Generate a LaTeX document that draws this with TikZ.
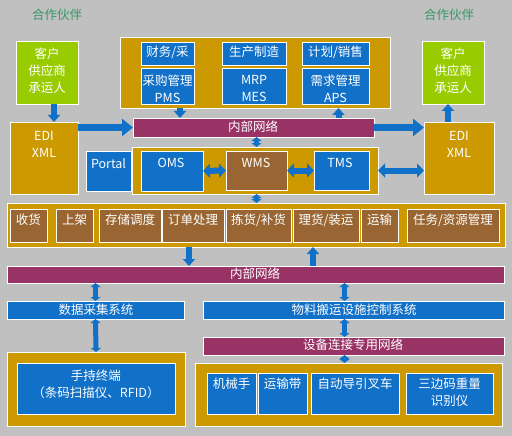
\documentclass[tikz,border=0pt]{standalone}
\usepackage{fontspec}
\setmainfont{Noto Sans CJK SC}
\usetikzlibrary{arrows.meta,calc}
\definecolor{bgc}{HTML}{C0C0C0}
\definecolor{goldc}{HTML}{CC9900}
\definecolor{bluc}{HTML}{1170C8}
\definecolor{marc}{HTML}{993366}
\definecolor{brnc}{HTML}{996633}
\definecolor{grnc}{HTML}{99CC00}
\definecolor{ttlc}{HTML}{339966}
\newcommand\mybox[6]{\node[#1,minimum width={(#4)-(#2)},minimum height={(#5)-(#3)}] (#6) at ({((#2)+(#4))/2},{((#3)+(#5))/2}) {};}
\begin{document}
\begin{tikzpicture}[x=1pt,y=-1pt,
  bx/.style={draw=white,line width=0.9pt,inner sep=0pt,outer sep=0pt},
  goldb/.style={bx,fill=goldc},
  blueb/.style={bx,fill=bluc},
  marb/.style={bx,fill=marc},
  brnb/.style={bx,fill=brnc},
  grnb/.style={bx,fill=grnc},
  txt/.style={text=white,font=\fontsize{12.5}{17}\selectfont,inner sep=0pt,align=center},
  ttl/.style={text=ttlc,font=\fontsize{12.5}{15}\selectfont,inner sep=0pt},
  harr/.style={draw=bluc,line width=7pt,-{Triangle[length=11pt,width=17pt]}},
  varr/.style={draw=bluc,line width=6pt,-{Triangle[length=7pt,width=12pt]}},
  dharr/.style={draw=bluc,line width=6pt,{Triangle[length=7pt,width=14pt]}-{Triangle[length=7pt,width=14pt]}},
  dvarr/.style={draw=bluc,line width=5pt,{Triangle[length=4pt,width=10pt]}-{Triangle[length=4pt,width=10pt]}},
]
\fill[bgc] (0,0) rectangle (512,436);
\useasboundingbox (0,0) rectangle (512,436);

% titles
\node[ttl] (ttlL) at (57,15) {合作伙伴};
\node[ttl] (ttlR) at (449,15) {合作伙伴};

% partners
\mybox{grnb}{16}{41}{78}{104}{clientL}
\mybox{grnb}{422}{41}{484}{104}{clientR}
\mybox{goldb}{10}{122}{78}{194}{ediL}
\mybox{goldb}{424}{122}{494}{194}{ediR}
\node[txt] (tcL) at (47,71) {客户\\供应商\\承运人};
\node[txt] (tcR) at (453,71) {客户\\供应商\\承运人};
\node[txt] (teL) at (44,144) {EDI\\XML};
\node[txt] (teR) at (459,144) {EDI\\XML};

% top systems
\mybox{goldb}{120}{37}{390}{108}{topbox}
\mybox{blueb}{141}{42}{194}{65}{fin}
\mybox{blueb}{141}{68}{194}{104}{pms}
\mybox{blueb}{222}{42}{286}{65}{prod}
\mybox{blueb}{222}{68}{286}{104}{mes}
\mybox{blueb}{302}{42}{369}{65}{plan}
\mybox{blueb}{302}{68}{369}{104}{aps}
\node[txt] (tfin) at (167.5,52) {财务/采};
\node[txt] (tpms) at (167.5,88.5) {采购管理\\PMS};
\node[txt] (tprod) at (254,52) {生产制造};
\node[txt] (tmes) at (254,88.5) {MRP\\MES};
\node[txt] (tplan) at (335.5,52) {计划/销售};
\node[txt] (taps) at (335.5,88.5) {需求管理\\APS};

% network 1
\mybox{marb}{133}{118}{374}{137}{net1}
\node[txt] (tnet1) at (253,127) {内部网络};

% middle
\mybox{goldb}{132}{147}{378}{194}{midbox}
\mybox{blueb}{86}{151}{131}{191}{portal}
\mybox{blueb}{141}{151}{203}{191}{oms}
\mybox{brnb}{226}{151}{287}{190}{wms}
\mybox{blueb}{314}{151}{369}{190}{tms}
\node[txt] (tportal) at (108.5,164) {Portal};
\node[txt] (toms) at (171,163) {OMS};
\node[txt] (twms) at (256,163) {WMS};
\node[txt] (ttms) at (340,163) {TMS};

% functions
\mybox{goldb}{7}{203}{505}{247}{func}
\mybox{brnb}{10}{209}{47}{242}{f1}
\mybox{brnb}{56}{209}{93}{242}{f2}
\mybox{brnb}{99}{209}{161}{242}{f3}
\mybox{brnb}{162}{209}{224}{242}{f4}
\mybox{brnb}{226}{209}{291}{242}{f5}
\mybox{brnb}{293}{209}{359}{242}{f6}
\mybox{brnb}{361}{209}{398}{242}{f7}
\mybox{brnb}{407}{209}{499}{242}{f8}
\node[txt] (tf1) at (28.5,220) {收货};
\node[txt] (tf2) at (74.5,220) {上架};
\node[txt] (tf3) at (130,220) {存储调度};
\node[txt] (tf4) at (193,220) {订单处理};
\node[txt] (tf5) at (258.5,220) {拣货/补货};
\node[txt] (tf6) at (326,220) {理货/装运};
\node[txt] (tf7) at (379.5,220) {运输};
\node[txt] (tf8) at (453,220) {任务/资源管理};

% network 2 and lower systems
\mybox{marb}{7}{266}{504}{283}{net2}
\node[txt] (tnet2) at (255,274) {内部网络};
\mybox{blueb}{7}{301}{184}{319}{daq}
\node[txt] (tdaq) at (96,310) {数据采集系统};
\mybox{blueb}{203}{301}{504}{319}{mhc}
\node[txt] (tmhc) at (354,310) {物料搬运设施控制系统};
\mybox{marb}{203}{337}{504}{355}{net3}
\node[txt] (tnet3) at (353,345) {设备连接专用网络};

% bottom left
\mybox{goldb}{7}{352}{185}{426}{handL}
\mybox{blueb}{17}{363}{175}{414}{hand}
\node[txt] (thand) at (96,384) {手持终端\\（条码扫描仪、RFID）};

% bottom right
\mybox{goldb}{195}{363}{502}{426}{devR}
\mybox{blueb}{207}{373}{256}{414}{d1}
\mybox{blueb}{258}{373}{307}{414}{d2}
\mybox{blueb}{311}{373}{399}{414}{d3}
\mybox{blueb}{406}{373}{493}{414}{d4}
\node[txt] (td1) at (231.5,384) {机械手};
\node[txt] (td2) at (282.5,384) {运输带};
\node[txt] (td3) at (355,384) {自动导引叉车};
\node[txt] (td4) at (449.5,392) {三边码重量\\识别仪};

% connectors
\draw[varr] ($(clientL.south)+(7,0)$) -- ($(ediL.north -| clientL.south)+(7,0)$);
\draw[varr] ($(ediR.north -| clientR.south)+(-5,0)$) -- ($(clientR.south)+(-5,0)$);
\draw[harr] (ediL.east |- net1.west) -- (net1.west);
\draw[harr] (net1.east) -- (ediR.west |- net1.east);
\draw[varr] ($(topbox.south west)+(60,0)$) -- ($(net1.north -| topbox.south west)+(60,0)$);
\draw[varr] ($(net1.north -| aps.south)+(3,0)$) -- ($(topbox.south -| aps.south)+(3,0)$);
\draw[dvarr] (net1.south -| wms.north) -- (midbox.north -| wms.north);
\draw[dvarr] (midbox.south -| wms.south) -- (func.north -| wms.south);
\draw[dharr] (oms.east) -- (wms.west);
\draw[dharr] (wms.east) -- (tms.west);
\draw[dharr] (midbox.east) -- (ediR.west |- midbox.east);
\draw[varr] ($(func.south west)+(182,0)$) -- ($(net2.north west)+(182,0)$);
\draw[varr] ($(net2.north west)+(306,0)$) -- ($(func.south west)+(306,0)$);
\draw[dvarr] (net2.south -| daq.north) -- (daq.north);
\draw[dvarr] (daq.south) -- (handL.north);
\draw[dvarr] ($(net2.south -| mhc.north)+(-9,0)$) -- ($(mhc.north)+(-9,0)$);
\draw[dvarr] ($(mhc.south)+(-9,0)$) -- ($(net3.north)+(-9,0)$);
\draw[dvarr] ($(net3.south)+(-9,0)$) -- ($(devR.north -| net3.south)+(-9,0)$);
\end{tikzpicture}
\end{document}
